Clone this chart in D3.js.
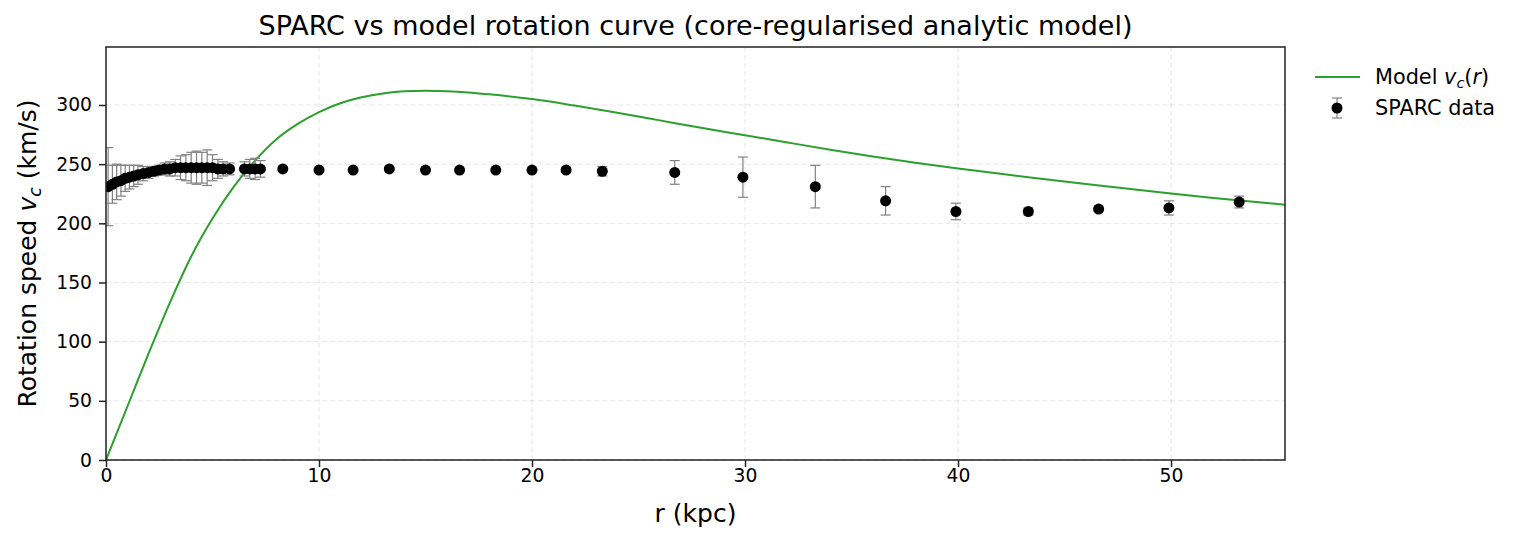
<!DOCTYPE html>
<html lang="en">
<head>
<meta charset="utf-8">
<title>SPARC vs model rotation curve</title>
<script src="https://cdn.jsdelivr.net/npm/d3@7"></script>
<style>
  body { margin: 0; background: #fff; }
  text { font-family: "DejaVu Sans", sans-serif; }
</style>
</head>
<body>
<svg id="chart" width="1517" height="542"></svg>
<script>
// SPARC data (kpc, km/s)
var dataR   = [0.10, 0.30, 0.50, 0.70, 0.90, 1.10, 1.30, 1.50, 1.75, 2.00, 2.25, 2.50, 2.75, 3.00, 3.25, 3.50, 3.75, 4.00, 4.25, 4.50, 4.75, 5.00, 5.25, 5.50, 5.80, 6.50, 6.75, 7.00, 7.25,
               8.3, 10.0, 11.6, 13.3, 15.0, 16.6, 18.3, 20.0, 21.6, 23.3, 26.7, 29.9, 33.3, 36.6, 39.9, 43.3, 46.6, 49.9, 53.2];
var dataV   = [231, 233, 235, 236, 238, 239, 240, 241, 242, 243, 244, 245, 246, 246, 247, 247, 247, 247, 247, 247, 247, 247, 246, 246, 246, 246, 246, 246, 246,
               246, 245, 245, 246, 245, 245, 245, 245, 245, 244, 243, 239, 231, 219, 210, 210, 212, 213, 218];
var dataErr = [33, 16, 15, 13, 11, 10, 9, 8, 6, 5, 4, 4, 5, 6, 7, 10, 11, 13, 14, 13, 15, 11, 8, 6, 5, 6, 8, 9, 7,
               1, 1, 1, 1, 1, 1, 1, 1, 2, 4, 10, 17, 18, 12, 7, 3, 2, 6, 5];

// model curve
var modelR = [0, 1, 2, 3, 4, 5, 6, 7, 8, 9, 10, 11, 12, 13, 14, 15, 16, 17, 18, 20, 22, 24, 26, 28, 30, 32, 34, 36, 38, 40, 42, 44, 46, 48, 50, 52, 54, 55.4];
var modelV = [0, 45, 90, 133, 172, 204, 231, 253, 271, 284, 294, 301.5, 306.5, 309.8, 311.6, 312, 311.6, 310.6, 309, 305, 299.5, 293.5, 287, 280.5, 274.5, 268.3, 262.2, 256.4, 251.1, 246.3, 241.8, 237.5, 233.3, 229.2, 225.2, 221.5, 218, 215.6];

var xTicks = [0, 10, 20, 30, 40, 50];
var yTicks = [0, 50, 100, 150, 200, 250, 300];

var margin = {top: 47, right: 232, bottom: 82, left: 106},
    width = 1517 - margin.left - margin.right,
    height = 542 - margin.top - margin.bottom;

var x = d3.scaleLinear().domain([0, 55.35]).range([0, width]);
var y = d3.scaleLinear().domain([0, 349]).range([height, 0]);

var svg = d3.select("#chart");
var chart = svg.append("g")
    .attr("transform", "translate(" + margin.left + "," + margin.top + ")");

// grid
chart.append("g").selectAll("line").data(xTicks).enter().append("line")
    .attr("x1", function(d) { return x(d); }).attr("x2", function(d) { return x(d); })
    .attr("y1", 0).attr("y2", height)
    .attr("stroke", "#b0b0b0").attr("stroke-opacity", 0.3)
    .attr("stroke-dasharray", "5,3");
chart.append("g").selectAll("line").data(yTicks).enter().append("line")
    .attr("x1", 0).attr("x2", width)
    .attr("y1", function(d) { return y(d); }).attr("y2", function(d) { return y(d); })
    .attr("stroke", "#b0b0b0").attr("stroke-opacity", 0.3)
    .attr("stroke-dasharray", "5,3");

var plot = chart.append("g");
plot.append("clipPath").attr("id", "clip").append("rect")
    .attr("width", width).attr("height", height);
plot.attr("clip-path", "url(#clip)");

// model line
var line = d3.line()
    .x(function(d) { return x(d[0]); })
    .y(function(d) { return y(d[1]); })
    .curve(d3.curveMonotoneX);
plot.append("path")
    .datum(d3.zip(modelR, modelV))
    .attr("fill", "none")
    .attr("stroke", "#2ca02c")
    .attr("stroke-width", 2)
    .attr("d", line);

// error bars
var pts = dataR.map(function(r, i) { return {r: r, v: dataV[i], e: dataErr[i]}; });
var eb = plot.append("g").attr("stroke", "#808080").attr("stroke-width", 1.2);
eb.selectAll(".bar").data(pts).enter().append("line")
    .attr("x1", function(d) { return x(d.r); }).attr("x2", function(d) { return x(d.r); })
    .attr("y1", function(d) { return y(d.v - d.e); }).attr("y2", function(d) { return y(d.v + d.e); });
eb.selectAll(".capTop").data(pts).enter().append("line")
    .attr("x1", function(d) { return x(d.r) - 5; }).attr("x2", function(d) { return x(d.r) + 5; })
    .attr("y1", function(d) { return y(d.v + d.e); }).attr("y2", function(d) { return y(d.v + d.e); });
eb.selectAll(".capBot").data(pts).enter().append("line")
    .attr("x1", function(d) { return x(d.r) - 5; }).attr("x2", function(d) { return x(d.r) + 5; })
    .attr("y1", function(d) { return y(d.v - d.e); }).attr("y2", function(d) { return y(d.v - d.e); });

plot.append("g").selectAll("circle").data(pts).enter().append("circle")
    .attr("cx", function(d) { return x(d.r); })
    .attr("cy", function(d) { return y(d.v); })
    .attr("r", 5.5)
    .attr("fill", "#000");

// axes
var xAxis = d3.axisBottom(x).tickValues(xTicks).tickSize(7).tickPadding(2);
var yAxis = d3.axisLeft(y).tickValues(yTicks).tickSize(7).tickPadding(7);

var gx = chart.append("g").attr("transform", "translate(0," + height + ")").call(xAxis);
var gy = chart.append("g").call(yAxis);
[gx, gy].forEach(function(g) {
  g.select(".domain").remove();
  g.selectAll("line").attr("stroke", "#222").attr("stroke-width", 1.5);
  g.selectAll("text").attr("font-size", 18.75).attr("fill", "#000")
    .style("font-family", "DejaVu Sans, sans-serif");
});

chart.append("rect")
    .attr("width", width).attr("height", height)
    .attr("fill", "none").attr("stroke", "#222").attr("stroke-width", 1.5);

// labels
svg.append("text")
    .attr("x", margin.left + width / 2).attr("y", 35)
    .attr("text-anchor", "middle").attr("font-size", 27)
    .text("SPARC vs model rotation curve (core-regularised analytic model)");

svg.append("text")
    .attr("x", margin.left + width / 2).attr("y", 522)
    .attr("text-anchor", "middle").attr("font-size", 25)
    .text("r (kpc)");

var yl = svg.append("text")
    .attr("transform", "translate(36," + (margin.top + height / 2) + ") rotate(-90)")
    .attr("text-anchor", "middle").attr("font-size", 25);
yl.append("tspan").text("Rotation speed ");
yl.append("tspan").attr("font-style", "italic").text("v");
yl.append("tspan").attr("font-style", "italic").attr("font-size", 17.5).attr("dy", 5).text("c");
yl.append("tspan").attr("dy", -5).text(" (km/s)");

// legend
var lg = svg.append("g").attr("transform", "translate(1315,77)");
lg.append("line").attr("x1", 0).attr("x2", 45).attr("y1", 0).attr("y2", 0)
    .attr("stroke", "#2ca02c").attr("stroke-width", 2);
var t1 = lg.append("text").attr("x", 60).attr("y", 7).attr("font-size", 20.8);
t1.append("tspan").text("Model ");
t1.append("tspan").attr("font-style", "italic").text("v");
t1.append("tspan").attr("font-style", "italic").attr("font-size", 14.5).attr("dy", 4).text("c");
t1.append("tspan").attr("dy", -4).text("(");
t1.append("tspan").attr("font-style", "italic").text("r");
t1.append("tspan").text(")");

var lm = lg.append("g").attr("transform", "translate(22,31)");
lm.append("line").attr("x1", 0).attr("x2", 0).attr("y1", -10).attr("y2", 10).attr("stroke", "#808080").attr("stroke-width", 1.2);
lm.append("line").attr("x1", -5).attr("x2", 5).attr("y1", -10).attr("y2", -10).attr("stroke", "#808080").attr("stroke-width", 1.2);
lm.append("line").attr("x1", -5).attr("x2", 5).attr("y1", 10).attr("y2", 10).attr("stroke", "#808080").attr("stroke-width", 1.2);
lm.append("circle").attr("r", 5.5).attr("fill", "#000");
lg.append("text").attr("x", 60).attr("y", 38).attr("font-size", 20.8).text("SPARC data");
</script>
</body>
</html>
